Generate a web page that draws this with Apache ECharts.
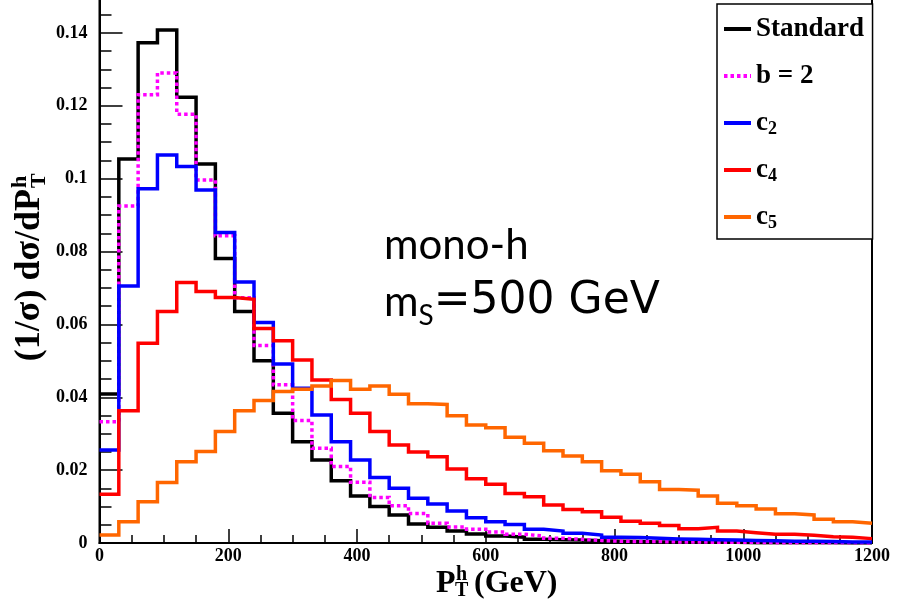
<!DOCTYPE html>
<html>
<head>
<meta charset="utf-8">
<script src="https://cdn.jsdelivr.net/npm/echarts@6/dist/echarts.min.js"></script>
<style>
  html, body { margin: 0; padding: 0; background: #ffffff; }
  #chart { width: 903px; height: 606px; }
</style>
</head>
<body>
<div id="chart"></div>
<script>
// Histogram bin edges in GeV (40 bins, 30 GeV wide)
const binEdges = [0, 30, 60, 90, 120, 150, 180, 210, 240, 270, 300, 330, 360, 390, 420, 450,
  480, 510, 540, 570, 600, 630, 660, 690, 720, 750, 780, 810, 840, 870, 900, 930, 960, 990,
  1020, 1050, 1080, 1110, 1140, 1170, 1200];

// Normalised distributions (1/sigma) dsigma/dPT, one value per bin
const standard = [0.0409, 0.1054, 0.1373, 0.1408, 0.1223, 0.1040, 0.0781, 0.0635, 0.0500, 0.0356,
  0.0278, 0.0228, 0.0171, 0.0129, 0.0100, 0.0077, 0.0052, 0.0043, 0.0033, 0.0025,
  0.0019, 0.0016, 0.0010, 0.0009, 0.0008, 0.0006, 0.0005, 0.0004, 0.0003, 0.0003,
  0.0002, 0.0002, 0.0002, 0.0001, 0.0001, 0.0001, 0.0001, 0.0001, 0.0000, 0.0000];

const bEquals2 = [0.0333, 0.0925, 0.1230, 0.1290, 0.1177, 0.0996, 0.0843, 0.0673, 0.0542, 0.0434,
  0.0336, 0.0260, 0.0210, 0.0167, 0.0125, 0.0102, 0.0081, 0.0054, 0.0044, 0.0038,
  0.0030, 0.0024, 0.0019, 0.0013, 0.0010, 0.0007, 0.0005, 0.0004, 0.0004, 0.0003,
  0.0003, 0.0002, 0.0002, 0.0002, 0.0001, 0.0001, 0.0001, 0.0001, 0.0001, 0.0000];

const c2 = [0.0255, 0.0705, 0.0972, 0.1065, 0.1033, 0.0969, 0.0852, 0.0716, 0.0605, 0.0491,
  0.0425, 0.0351, 0.0278, 0.0228, 0.0180, 0.0150, 0.0123, 0.0107, 0.0088, 0.0069,
  0.0058, 0.0051, 0.0038, 0.0033, 0.0027, 0.0022, 0.0016, 0.0015, 0.0013, 0.0011,
  0.0010, 0.0009, 0.0008, 0.0007, 0.0006, 0.0005, 0.0005, 0.0004, 0.0003, 0.0003];

const c4 = [0.0134, 0.0363, 0.0548, 0.0635, 0.0715, 0.0690, 0.0674, 0.0669, 0.0589, 0.0555,
  0.0502, 0.0447, 0.0394, 0.0356, 0.0306, 0.0269, 0.0250, 0.0237, 0.0203, 0.0176,
  0.0161, 0.0136, 0.0127, 0.0104, 0.0092, 0.0086, 0.0071, 0.0060, 0.0054, 0.0048,
  0.0039, 0.0043, 0.0033, 0.0028, 0.0024, 0.0024, 0.0021, 0.0017, 0.0016, 0.0012];

const c5 = [0.0022, 0.0058, 0.0113, 0.0166, 0.0223, 0.0251, 0.0306, 0.0363, 0.0391, 0.0416,
  0.0422, 0.0431, 0.0446, 0.0422, 0.0431, 0.0408, 0.0382, 0.0380, 0.0349, 0.0324,
  0.0316, 0.0290, 0.0274, 0.0253, 0.0239, 0.0223, 0.0198, 0.0189, 0.0168, 0.0147,
  0.0145, 0.0129, 0.0109, 0.0102, 0.0093, 0.0080, 0.0077, 0.0065, 0.0058, 0.0054];

const seriesNames = ['Standard', 'b = 2', 'c2', 'c4', 'c5'];
const seriesValues = [standard, bEquals2, c2, c4, c5];
const seriesColors = ['#000000', '#ff00ff', '#0000ff', '#ff0000', '#ff6600'];
const seriesDash = ['solid', [3.5, 3], 'solid', 'solid', 'solid'];

const SERIF = '"Liberation Serif", "Times New Roman", serif';
const SANS = 'Lato, "Open Sans", sans-serif';
const WIDE_SANS = '"DejaVu Sans", sans-serif';

// Step outline: each bin's value held from its low edge to the next edge
function histogramPoints(values) {
  const pts = values.map((v, i) => [binEdges[i], v]);
  pts.push([binEdges[values.length], values[values.length - 1]]);
  return pts;
}

const series = seriesNames.map((name, k) => ({
  name: name,
  type: 'line',
  step: 'end',
  symbol: 'none',
  showSymbol: false,
  clip: true,
  z: 2 + k,
  data: histogramPoints(seriesValues[k]),
  lineStyle: { color: seriesColors[k], width: 3.5, type: seriesDash[k], cap: 'butt', join: 'miter' },
  itemStyle: { color: seriesColors[k] }
}));

const tickLabelStyle = { color: '#000', fontFamily: SERIF, fontWeight: 'bold', fontSize: 18 };
const axisLineStyle = { color: '#000', width: 2 };
const tickLineStyle = { color: '#000', width: 1.5 };

function plainNumber(v) {
  return String(parseFloat(Number(v).toFixed(4)));
}

const chart = echarts.init(document.getElementById('chart'), null, { renderer: 'canvas' });

chart.setOption({
  animation: false,
  backgroundColor: '#ffffff',
  grid: {
    left: 99.5, right: 31, top: -40, bottom: 63,
    show: true, borderColor: '#000', borderWidth: 2, backgroundColor: 'transparent',
    containLabel: false, outerBoundsMode: 'none'
  },
  xAxis: {
    type: 'value', min: 0, max: 1200, interval: 200,
    axisLine: { show: true, onZero: false, lineStyle: axisLineStyle },
    axisTick: { show: true, inside: true, length: 14, lineStyle: tickLineStyle },
    minorTick: { show: true, splitNumber: 4, length: 8, lineStyle: tickLineStyle },
    splitLine: { show: false },
    minorSplitLine: { show: false },
    axisLabel: Object.assign({ margin: 4, formatter: plainNumber }, tickLabelStyle)
  },
  yAxis: {
    type: 'value', min: 0, max: 0.16, interval: 0.02,
    axisLine: { show: true, onZero: false, lineStyle: axisLineStyle },
    axisTick: { show: true, inside: true, length: 23, lineStyle: tickLineStyle },
    minorTick: { show: true, splitNumber: 4, length: 12, lineStyle: tickLineStyle },
    splitLine: { show: false },
    minorSplitLine: { show: false },
    axisLabel: Object.assign({ margin: 12, showMaxLabel: false, formatter: plainNumber }, tickLabelStyle)
  },
  legend: {
    orient: 'vertical',
    left: 717, top: 4,
    padding: [10, 4, 7, 5],
    itemGap: 17,
    itemWidth: 27,
    itemHeight: 14,
    backgroundColor: '#ffffff',
    borderColor: '#000',
    borderWidth: 1.5,
    borderRadius: 0,
    selectedMode: false,
    itemStyle: { opacity: 0 },
    lineStyle: { width: 4 },
    data: seriesNames,
    // every entry carries a subscript slot so all rows share one height
    formatter: function (name) {
      if (/^c\d$/.test(name)) return '{n|c}{s|' + name.slice(1) + '}';
      return '{n|' + name + '}{s| }';
    },
    textStyle: {
      color: '#000', fontFamily: SERIF, fontWeight: 'bold', fontSize: 27,
      rich: {
        n: { color: '#000', fontFamily: SERIF, fontWeight: 'bold', fontSize: 27, lineHeight: 34 },
        s: { color: '#000', fontFamily: SERIF, fontWeight: 'bold', fontSize: 18, lineHeight: 22, padding: [12, 0, 0, 0] }
      }
    }
  },
  graphic: [
    // x-axis title: P_T^h (GeV)
    { type: 'text', x: 436, y: 584, silent: true,
      style: { text: 'P', font: 'bold 32px ' + SERIF, fill: '#000', align: 'left', verticalAlign: 'middle', textAlign: 'left', textVerticalAlign: 'middle' } },
    { type: 'text', x: 456, y: 575, silent: true,
      style: { text: 'h', font: 'bold 20px ' + SERIF, fill: '#000', align: 'left', verticalAlign: 'middle', textAlign: 'left', textVerticalAlign: 'middle' } },
    { type: 'text', x: 455, y: 591, silent: true,
      style: { text: 'T', font: 'bold 20px ' + SERIF, fill: '#000', align: 'left', verticalAlign: 'middle', textAlign: 'left', textVerticalAlign: 'middle' } },
    { type: 'text', x: 474, y: 584, silent: true,
      style: { text: '(GeV)', font: 'bold 32px ' + SERIF, fill: '#000', align: 'left', verticalAlign: 'middle', textAlign: 'left', textVerticalAlign: 'middle' } },
    // y-axis title: (1/sigma) dsigma/dP_T^h, reading bottom to top
    { type: 'text', x: 29.5, y: 189, rotation: Math.PI / 2, silent: true,
      style: { text: '(1/σ) dσ/dP', font: 'bold 36px ' + SERIF, fill: '#000', align: 'right', verticalAlign: 'middle', textAlign: 'right', textVerticalAlign: 'middle' } },
    { type: 'text', x: 20, y: 188, rotation: Math.PI / 2, silent: true,
      style: { text: 'h', font: 'bold 22px ' + SERIF, fill: '#000', align: 'left', verticalAlign: 'middle', textAlign: 'left', textVerticalAlign: 'middle' } },
    { type: 'text', x: 39, y: 188, rotation: Math.PI / 2, silent: true,
      style: { text: 'T', font: 'bold 22px ' + SERIF, fill: '#000', align: 'left', verticalAlign: 'middle', textAlign: 'left', textVerticalAlign: 'middle' } },
    // process annotation
    { type: 'text', x: 384, y: 245, silent: true,
      style: { text: 'mono-h', font: '42px ' + SANS, fill: '#000', align: 'left', verticalAlign: 'middle', textAlign: 'left', textVerticalAlign: 'middle' } },
    { type: 'text', x: 384, y: 302, silent: true,
      style: {
        text: '{a|m}{s|S}{b|=500 GeV}', fill: '#000', align: 'left', verticalAlign: 'middle',
        textAlign: 'left', textVerticalAlign: 'middle',
        rich: {
          a: { fontFamily: SANS, fontSize: 42, fill: '#000' },
          s: { fontFamily: SANS, fontSize: 28, fill: '#000', padding: [28, 0, 0, 0] },
          b: { fontFamily: WIDE_SANS, fontWeight: 'normal', fontSize: 44, fill: '#000' }
        }
      } }
  ],
  series: series
});
</script>
</body>
</html>
